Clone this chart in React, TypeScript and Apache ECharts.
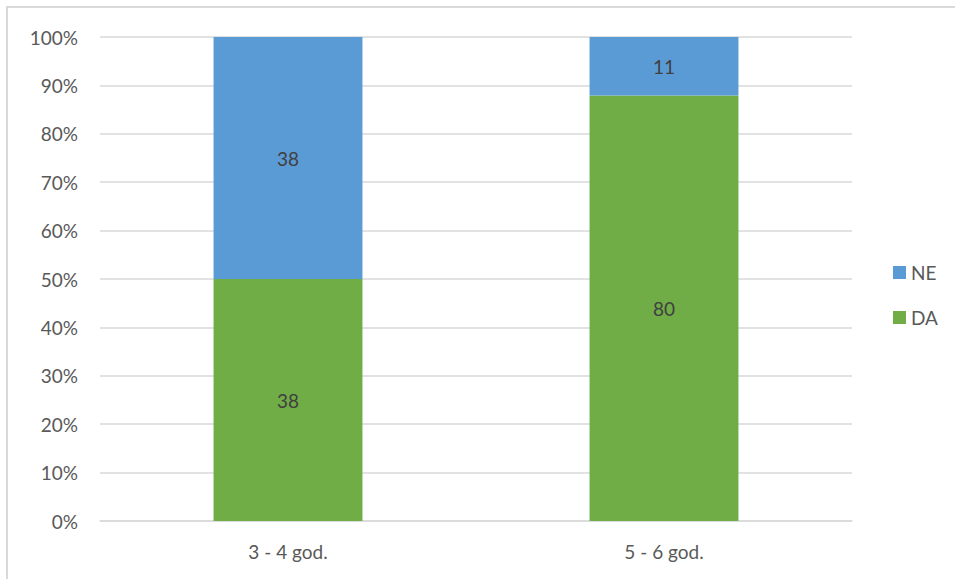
import React, { useEffect, useRef } from "react";
import * as echarts from "echarts";

const categories = ["3 - 4 god.", "5 - 6 god."];
const daValues = [38, 80];
const neValues = [38, 11];
const yTicks = [0, 10, 20, 30, 40, 50, 60, 70, 80, 90, 100];

export default function App() {
  const ref = useRef<HTMLDivElement>(null);
  useEffect(() => {
    if (!ref.current) return;
    const chart = echarts.init(ref.current, undefined, { renderer: "svg" });
    const totals = categories.map((_, i) => daValues[i] + neValues[i]);
    const daPct = daValues.map((v, i) => (v / totals[i]) * 100);
    const nePct = neValues.map((v, i) => (v / totals[i]) * 100);
    const font = "Lato, 'Noto Sans', sans-serif";
    const fs = 19;
    chart.setOption({
      animation: false,
      textStyle: { fontFamily: font },
      graphic: [
        {
          type: "rect",
          shape: { x: 7, y: 7, width: 1000, height: 700 },
          style: { fill: "none", stroke: "#D9D9D9", lineWidth: 2 },
          silent: true,
        },
      ],
      grid: { left: 100, right: 103, top: 37, bottom: 58 },
      legend: {
        orient: "vertical",
        left: 888,
        top: 258,
        itemWidth: 13,
        itemHeight: 13,
        itemGap: 26,
        icon: "rect",
        data: ["NE", "DA"],
        textStyle: { color: "#595959", fontSize: fs, fontFamily: font },
      },
      xAxis: {
        type: "category",
        data: categories,
        axisTick: { show: false },
        axisLine: { lineStyle: { color: "#D9D9D9", width: 1.5 } },
        axisLabel: { color: "#595959", fontSize: fs, margin: 21, fontFamily: font },
      },
      yAxis: {
        type: "value",
        min: yTicks[0],
        max: yTicks[yTicks.length - 1],
        interval: 10,
        axisLabel: {
          color: "#595959",
          fontSize: fs,
          margin: 22,
          fontFamily: font,
          formatter: (v: number) => v + "%",
        },
        splitLine: { lineStyle: { color: "#D9D9D9", width: 1.5 } },
        axisLine: { show: false },
        axisTick: { show: false },
      },
      series: [
        {
          name: "DA",
          type: "bar",
          stack: "total",
          barWidth: "39.6%",
          data: daPct,
          itemStyle: { color: "#70AD47" },
          label: {
            show: true,
            position: "inside",
            color: "#404040",
            fontSize: fs,
            fontFamily: font,
            formatter: (p: any) => String(daValues[p.dataIndex]),
          },
        },
        {
          name: "NE",
          type: "bar",
          stack: "total",
          barWidth: "39.6%",
          data: nePct,
          itemStyle: { color: "#5B9BD5" },
          label: {
            show: true,
            position: "inside",
            color: "#404040",
            fontSize: fs,
            fontFamily: font,
            formatter: (p: any) => String(neValues[p.dataIndex]),
          },
        },
      ],
    });
    return () => chart.dispose();
  }, []);
  return (
    <div
      ref={ref}
      style={{ position: "fixed", left: 0, top: 0, width: 955, height: 579, background: "#fff" }}
    />
  );
}
